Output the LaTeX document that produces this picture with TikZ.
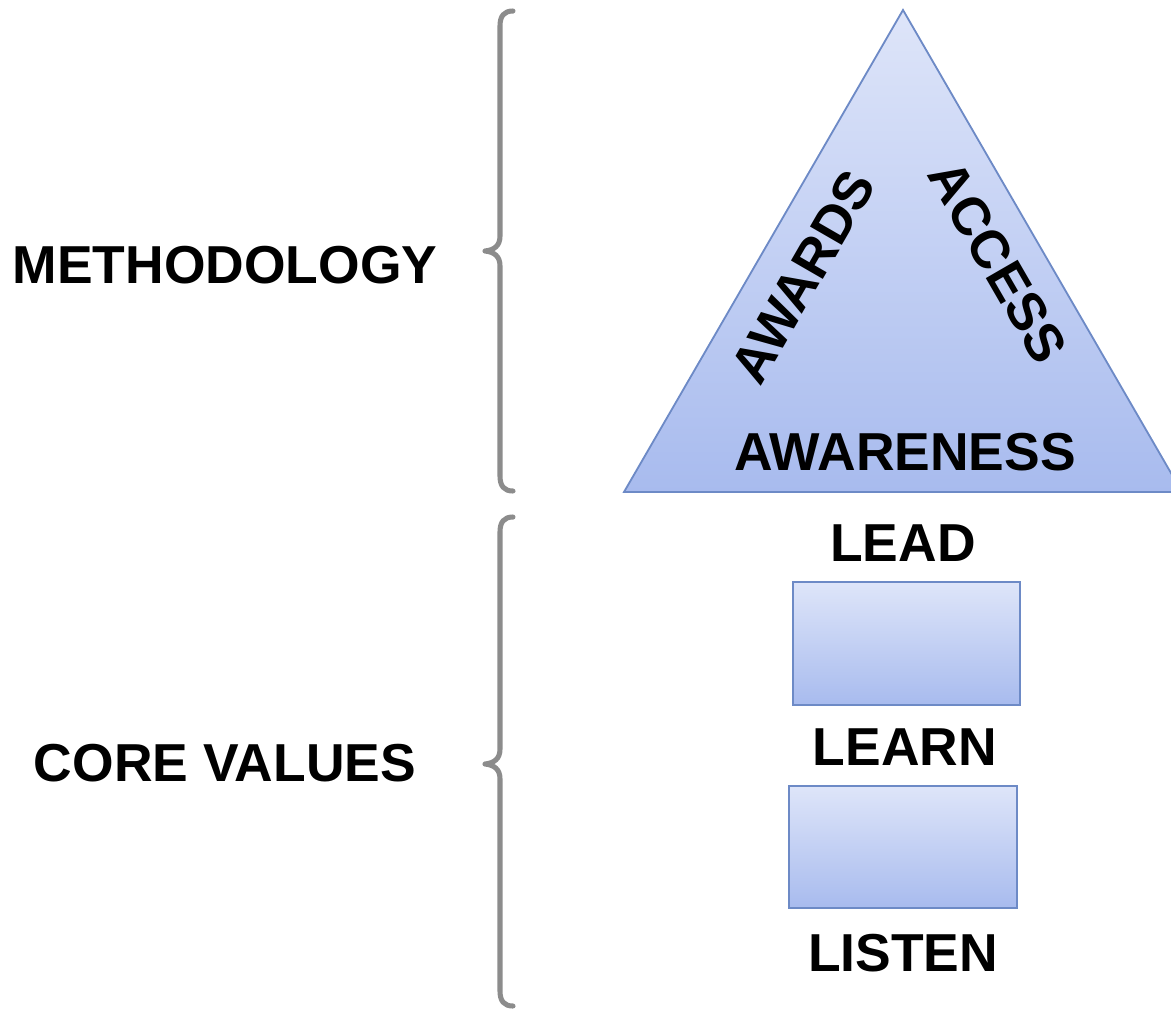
\documentclass[tikz,border=0pt]{standalone}
\usepackage{fontspec}
\setmainfont{Liberation Sans}
\usepackage{tikz}
\usetikzlibrary{positioning}

\definecolor{boxtop}{HTML}{DEE5F9}
\definecolor{boxbottom}{HTML}{A8BBEE}
\definecolor{boxline}{HTML}{6D8AC6}
\definecolor{bracegray}{HTML}{8C8C8C}

\tikzset{
	label/.style={font=\fontsize{38}{45}\selectfont\bfseries, inner sep=0pt},
	block/.style={top color=boxtop, bottom color=boxbottom, draw=boxline, line width=1.3pt},
	curly/.style={draw=bracegray, line width=3.6pt, line cap=round, line join=round}
}

\begin{document}
\begin{tikzpicture}[x=0.025cm, y=-0.025cm]
	\clip (0,0) rectangle (1171,1009);

	% methodology brace
	\coordinate (m1) at (513,11);
	\coordinate (m2) at (513,491);
	\draw[curly] (m1) .. controls (504,11) and (500,16) .. (500,26)
		-- (500,236) .. controls (500,246) and (494,250) .. (485,251)
		.. controls (494,252) and (500,256) .. (500,266)
		-- (500,476) .. controls (500,486) and (504,491) .. (m2);

	% core values brace
	\coordinate (c1) at (513,517);
	\coordinate (c2) at (513,1006);
	\draw[curly] (c1) .. controls (504,517) and (500,522) .. (500,532)
		-- (500,749) .. controls (500,759) and (494,763) .. (485,764)
		.. controls (494,765) and (500,769) .. (500,779)
		-- (500,991) .. controls (500,1001) and (504,1006) .. (c2);

	\node[label] (method) at (225,265) {METHODOLOGY};
	\node[label] (core) at (225,763) {CORE VALUES};

	% triangle
	\coordinate (apex) at (903,10);
	\coordinate (left) at (624,492);
	\coordinate (right) at (1182,492);
	\shade[block] (apex) -- (left) -- (right) -- cycle;

	\node[label, rotate=60] (awards) at (803,277) {AWARDS};
	\node[label, rotate=-60] (access) at (998,262) {ACCESS};
	\node[label] (awareness) at (905,452) {AWARENESS};

	% boxes
	\shade[block] (793,582) rectangle (1020,705);
	\shade[block] (789,786) rectangle (1017,908);

	\node[label] (lead) at (903,543) {LEAD};
	\node[label] (learn) at (905,747) {LEARN};
	\node[label] (listen) at (903,953) {LISTEN};
\end{tikzpicture}
\end{document}
